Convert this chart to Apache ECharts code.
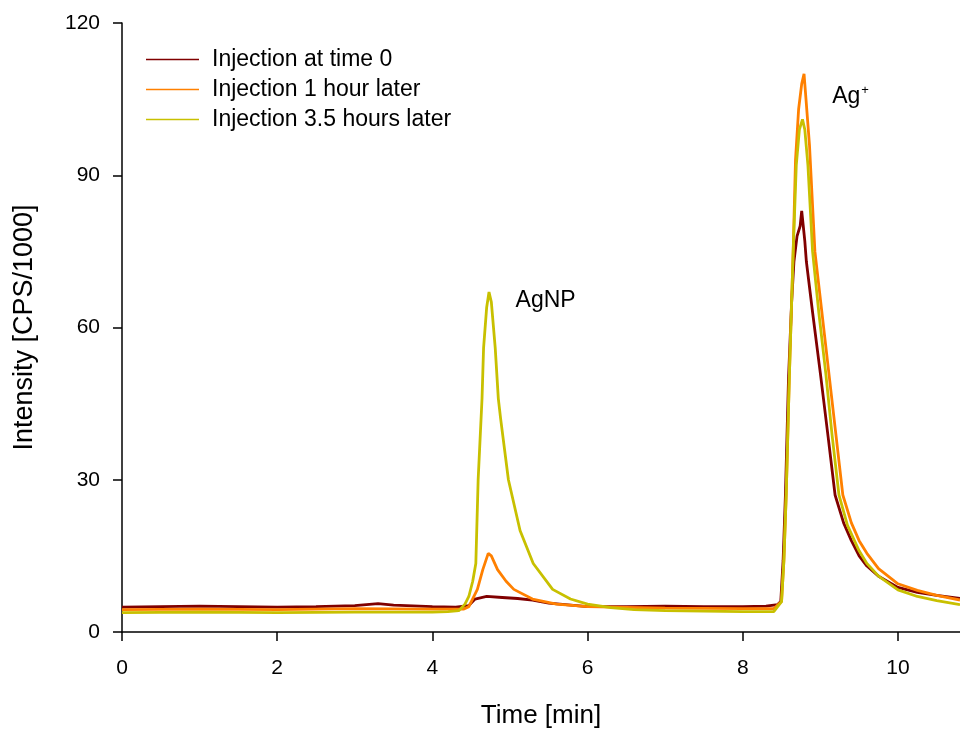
<!DOCTYPE html>
<html>
<head>
<meta charset="utf-8">
<script src="https://cdn.jsdelivr.net/npm/echarts@6/dist/echarts.min.js"></script>
<style>
  html, body { margin: 0; padding: 0; background: #fff; }
  #chart { width: 960px; height: 734px; }
</style>
</head>
<body>
<div id="chart"></div>
<script>
// values: [time (min), intensity (CPS/1000)]
var injection0 = [
  [0, 4.9], [0.5, 5.0], [1, 5.1], [1.5, 5.0], [2, 4.9], [2.5, 5.0], [3, 5.2], [3.3, 5.6],
  [3.5, 5.3], [4, 5.0], [4.3, 4.9], [4.47, 5.2], [4.55, 6.5], [4.7, 7.0], [4.9, 6.8],
  [5.1, 6.6], [5.29, 6.3], [5.5, 5.7], [6, 5.0], [6.5, 5.0], [7, 5.1], [7.5, 5.0], [8, 5.0],
  [8.3, 5.1], [8.45, 5.4], [8.49, 6], [8.52, 14], [8.55, 27], [8.59, 50], [8.63, 65],
  [8.66, 73], [8.7, 78], [8.74, 80], [8.76, 83], [8.78, 80], [8.8, 77], [8.82, 73],
  [8.9, 63], [9.0, 51], [9.1, 38.5], [9.19, 27], [9.3, 21.5], [9.4, 18], [9.5, 15],
  [9.6, 13], [9.75, 11], [10, 8.8], [10.25, 7.8], [10.5, 7.2], [10.8, 6.6]
];
var injection1h = [
  [0, 4.4], [1, 4.5], [2, 4.4], [3, 4.6], [4, 4.5], [4.4, 4.5], [4.47, 5], [4.58, 8.4],
  [4.65, 12.3], [4.72, 15.5], [4.76, 15], [4.84, 12.3], [4.95, 10], [5.05, 8.4],
  [5.29, 6.5], [5.6, 5.5], [6, 5.0], [7, 4.7], [8, 4.6], [8.4, 4.6], [8.5, 6], [8.53, 14],
  [8.56, 27], [8.6, 50], [8.65, 75], [8.68, 93], [8.72, 103], [8.76, 108], [8.79, 110],
  [8.82, 104], [8.86, 96], [8.9, 84], [8.93, 75], [9.02, 63], [9.11, 51], [9.2, 39],
  [9.29, 27], [9.4, 21.5], [9.5, 18], [9.6, 15.5], [9.75, 12.5], [10, 9.5], [10.25, 8.2],
  [10.5, 7.2], [10.8, 6.3]
];
var injection35h = [
  [0, 3.8], [1, 3.9], [2, 3.8], [3, 3.9], [4, 3.9], [4.2, 4.0], [4.34, 4.2], [4.42, 5.5],
  [4.47, 7], [4.52, 10], [4.56, 13.5], [4.59, 30], [4.64, 46], [4.66, 56], [4.7, 64],
  [4.73, 67], [4.76, 65], [4.81, 56], [4.85, 46], [4.88, 42], [4.98, 30], [5.13, 20],
  [5.3, 13.5], [5.55, 8.4], [5.78, 6.5], [6, 5.5], [6.3, 4.8], [6.6, 4.4], [7, 4.2],
  [7.5, 4.1], [8, 4.0], [8.4, 4.0], [8.5, 6], [8.53, 14], [8.56, 27], [8.6, 50], [8.65, 75],
  [8.69, 92], [8.73, 99], [8.77, 101], [8.8, 99], [8.84, 92], [8.9, 75], [8.98, 63],
  [9.07, 51], [9.15, 39], [9.24, 27], [9.35, 21], [9.5, 16], [9.6, 13.5], [9.75, 11],
  [10, 8.3], [10.25, 7], [10.5, 6.2], [10.8, 5.4]
];
var seriesNames = ['Injection at time 0', 'Injection 1 hour later', 'Injection 3.5 hours later'];
var seriesColors = ['#800000', '#ff8000', '#c8c000'];
var xTicks = [0, 2, 4, 6, 8, 10];
var peakLabels = [[5.46, 65.2, 'AgNP'], [9.39, 105.5, 'Ag+']];

var font = 'Liberation Sans, Arial, sans-serif';
var chart = echarts.init(document.getElementById('chart'), null, { renderer: 'canvas' });

function lineSeries(name, data, color) {
  return {
    name: name,
    type: 'line',
    data: data,
    showSymbol: false,
    symbol: 'none',
    animation: false,
    color: color,
    lineStyle: { color: color, width: 2.8 }
  };
}

var option = {
  animation: false,
  textStyle: { fontFamily: font, color: '#000' },
  grid: { left: 122, right: 0, top: 23, bottom: 98 },
  legend: {
    data: seriesNames,
    orient: 'vertical',
    left: 141,
    top: 43,
    icon: 'rect',
    itemWidth: 53,
    itemHeight: 1.5,
    itemGap: 7,
    textStyle: { fontFamily: font, fontSize: 23, color: '#000', padding: [0, 0, 0, 8] }
  },
  xAxis: {
    type: 'value',
    min: 0,
    max: 10.8,
    name: 'Time [min]',
    nameLocation: 'middle',
    nameGap: 71,
    nameTextStyle: { fontFamily: font, fontSize: 26, color: '#000' },
    axisLine: { lineStyle: { color: '#000', width: 1.5 } },
    axisTick: { inside: false, length: 9, customValues: xTicks, lineStyle: { color: '#000', width: 1.5 } },
    axisLabel: { customValues: xTicks, fontSize: 21, color: '#000', margin: 26, fontFamily: font },
    splitLine: { show: false }
  },
  yAxis: {
    type: 'value',
    min: 0,
    max: 120,
    interval: 30,
    name: 'Intensity [CPS/1000]',
    nameLocation: 'middle',
    nameGap: 84,
    nameTextStyle: { fontFamily: font, fontSize: 27, color: '#000' },
    axisLine: { show: true, lineStyle: { color: '#000', width: 1.5 } },
    axisTick: { show: true, inside: false, length: 9, lineStyle: { color: '#000', width: 1.5 } },
    axisLabel: { fontSize: 21, color: '#000', margin: 22, fontFamily: font },
    splitLine: { show: false }
  },
  series: [
    lineSeries(seriesNames[0], injection0, seriesColors[0]),
    lineSeries(seriesNames[1], injection1h, seriesColors[1]),
    lineSeries(seriesNames[2], injection35h, seriesColors[2]),
    {
      type: 'scatter',
      silent: true,
      symbol: 'circle',
      symbolSize: 0,
      itemStyle: { color: '#000' },
      data: peakLabels.map(function (p) { return { value: [p[0], p[1]], name: p[2] }; }),
      label: {
        show: true,
        position: 'inside',
        color: '#000',
        textBorderWidth: 0,
        opacity: 1,
        fontFamily: font,
        fontSize: 23,
        formatter: function (p) {
          return p.name === 'Ag+' ? 'Ag{sup|+}' : p.name;
        },
        rich: {
          sup: { fontSize: 13, fontFamily: font, color: '#000', padding: [0, 0, 12, 1] }
        }
      }
    }
  ]
};

chart.setOption(option);
window.addEventListener('resize', chart.resize);
</script>
</body>
</html>
